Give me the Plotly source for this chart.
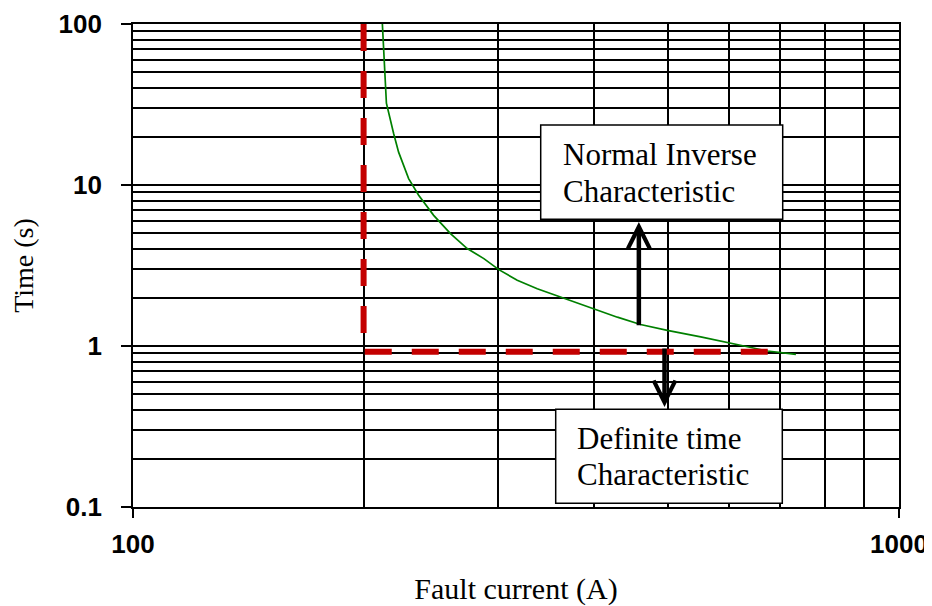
import numpy as np
import plotly.graph_objects as go

# ---------------- data ----------------
# Normal inverse characteristic
inv_current = [211.4, 212.4, 214.2, 218.9, 222.2, 229.0, 236.0, 246.9, 259.7, 273.1,
               287.1, 300.3, 317.4, 337.1, 361.5, 387.8, 428.9, 459.8, 498.4, 551.0,
               609.2, 673.5, 733.5]
inv_time = [110, 68.6, 32.2, 20.9, 16.0, 10.96, 8.63, 6.48, 4.99, 4.03,
            3.49, 2.98, 2.56, 2.27, 2.02, 1.79, 1.51, 1.36, 1.25, 1.14,
            1.035, 0.931, 0.888]

# Definite time characteristic
dt_current = [200, 200, 700]
dt_time = [100, 0.92, 0.92]

x_tick_vals = [100, 1000]
x_tick_text = ["100", "1000"]
y_tick_vals = [0.1, 1, 10, 100]
y_tick_text = ["0.1", "1", "10", "100"]

x_title = "Fault current (A)"
y_title = "Time (s)"
label_inverse = ["Normal Inverse", "Characteristic"]
label_definite = ["Definite time", "Characteristic"]

# arrows (data coords): (x, tip_y, tail_y)
arrow_up = (457.5, 5.89, 1.316)
arrow_down = (494.2, 0.418, 0.986)

# ---------------- figure ----------------
SERIF = "Liberation Serif, Times New Roman, serif"
SANS = "Liberation Sans, Arial, sans-serif"

fig = go.Figure()
fig.add_trace(go.Scatter(x=inv_current, y=inv_time, mode="lines",
                         line=dict(color="#008000", width=1.7),
                         showlegend=False, hoverinfo="skip"))
fig.add_trace(go.Scatter(x=dt_current, y=dt_time, mode="lines",
                         line=dict(color="#c40000", width=6, dash="27px,20px"),
                         showlegend=False, hoverinfo="skip"))

# page body has an 8px margin: figure sits at (8, 8) in the window
OFF = 8
W, H = 932 - OFF, 606 - OFF
PL, PR, PT, PB = 133, 899, 24, 507          # plot area in window pixels
L, R, T, B = PL - OFF, W - (PR - OFF), PT - OFF, H - (PB - OFF)
pw, ph = PR - PL, PB - PT

def px_x(p):
    return (p - PL) / pw

def px_y(p):
    return (PB - p) / ph

# text boxes
boxes = [
    (540.7, 782.7, 125.0, 219.3, 561.7, [154.5, 191.2], label_inverse),
    (555.7, 782.3, 409.3, 503.3, 576.0, [438.8, 474.5], label_definite),
]
for x0, x1, y0, y1, tx, tys, lines in boxes:
    fig.add_shape(type="rect", xref="paper", yref="paper",
                  x0=px_x(x0), x1=px_x(x1), y0=px_y(y1), y1=px_y(y0),
                  line=dict(color="black", width=1.5), fillcolor="white",
                  layer="above")
    for ty, txt in zip(tys, lines):
        fig.add_annotation(xref="paper", yref="paper", x=px_x(tx), y=px_y(ty),
                           xanchor="left", yanchor="middle", text=txt,
                           showarrow=False, borderpad=0,
                           font=dict(family=SERIF, size=31, color="black"))

for ax_x, tip, tail in [arrow_up, arrow_down]:
    fig.add_annotation(xref="x", yref="y", axref="x", ayref="y",
                       x=np.log10(ax_x), y=np.log10(tip),
                       ax=np.log10(ax_x), ay=np.log10(tail),
                       text="", showarrow=True, arrowhead=5,
                       arrowsize=0.95, arrowwidth=4.5, arrowcolor="black")

grid = dict(showgrid=True, gridcolor="black", gridwidth=1.5)

fig.update_xaxes(type="log", range=[2, 3], automargin=False,
                 tickvals=x_tick_vals, ticktext=x_tick_text,
                 ticks="outside", ticklen=9, tickwidth=1.5, tickcolor="black",
                 ticklabelstandoff=4,
                 tickfont=dict(family=SANS, size=26, color="black", weight="bold"),
                 showline=True, linecolor="black", linewidth=1.8, mirror=True,
                 minor=dict(dtick="D1", ticks="", **grid),
                 title=dict(text=x_title, standoff=28,
                            font=dict(family=SERIF, size=30, color="black")),
                 zeroline=False, **grid)
fig.update_yaxes(type="log", range=[-1, 2], automargin=False,
                 tickvals=y_tick_vals, ticktext=y_tick_text,
                 ticks="outside", ticklen=10, tickwidth=1.5, tickcolor="black",
                 ticklabelstandoff=14,
                 tickfont=dict(family=SANS, size=26, color="black", weight="bold"),
                 showline=True, linecolor="black", linewidth=1.8, mirror=True,
                 minor=dict(dtick="D1", ticks="", **grid),
                 title=dict(text=y_title, standoff=20,
                            font=dict(family=SERIF, size=28, color="black")),
                 zeroline=False, **grid)

fig.update_layout(width=W, height=H, margin=dict(l=L, r=R, t=T, b=B),
                  paper_bgcolor="white", plot_bgcolor="white",
                  showlegend=False)

fig.write_html("out.html")
